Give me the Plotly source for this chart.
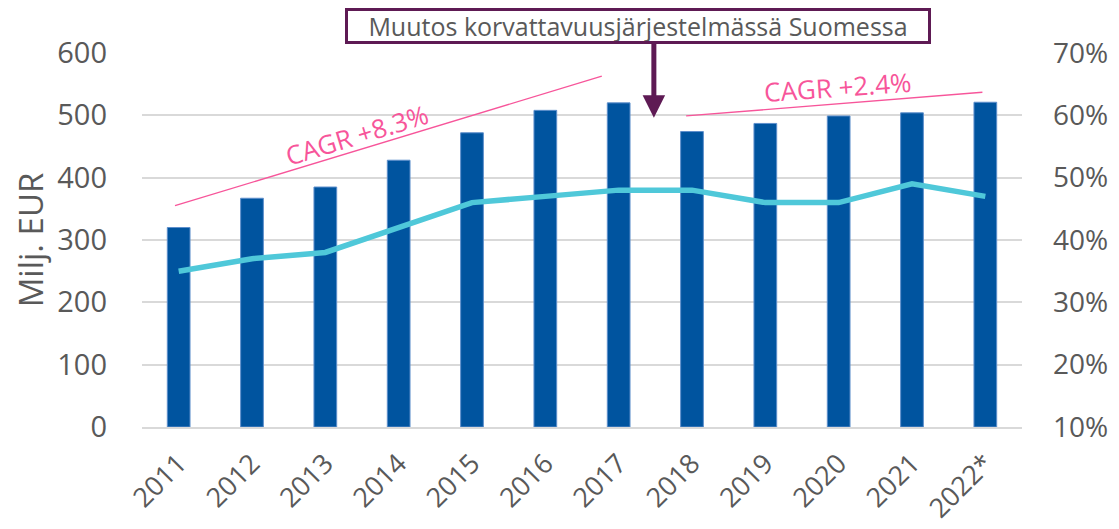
import plotly.graph_objects as go

years = ["2011", "2012", "2013", "2014", "2015", "2016", "2017", "2018", "2019", "2020", "2021", "2022*"]
revenue = [320, 367, 385, 428, 472, 508, 520, 474, 487, 499, 504, 521]
share_pct = [35, 37, 38, 42, 46, 47, 48, 48, 46, 46, 49, 47]

bar_color = "#00549F"
line_color = "#4FC8D9"
pink = "#F7559A"
purple = "#5E1A54"
grey_text = "#595959"
font_family = "Open Sans, Noto Sans, sans-serif"

fig = go.Figure()
fig.add_trace(go.Bar(
    x=years, y=revenue, marker=dict(color=bar_color, line=dict(color="#5E8FCC", width=1)),
    yaxis="y", name="Milj. EUR", showlegend=False,
))
fig.add_trace(go.Scatter(
    x=years, y=share_pct, mode="lines", line=dict(color=line_color, width=5.5),
    yaxis="y2", name="%", showlegend=False,
))

# CAGR trend lines
fig.add_shape(type="line", xref="x", yref="y", x0=-0.05, y0=355, x1=5.77, y1=563,
              line=dict(color=pink, width=1.3))
fig.add_shape(type="line", xref="x", yref="y", x0=6.92, y0=499, x1=10.96, y1=537,
              line=dict(color=pink, width=1.3))

fig.add_annotation(text="CAGR +8.3%", x=2.42, y=469, xref="x", yref="y", showarrow=False,
                   textangle=-17, font=dict(size=26, color=pink, family=font_family))
fig.add_annotation(text="CAGR +2.4%", x=8.98, y=545, xref="x", yref="y", showarrow=False,
                   textangle=-4, font=dict(size=26, color=pink, family=font_family))

# Box annotation + arrow
fig.add_annotation(x=6.48, y=496, xref="x", yref="y", ax=0, ay=-76, axref="pixel", ayref="pixel",
                   text="", showarrow=True, arrowhead=2, arrowsize=0.9, arrowwidth=5,
                   arrowcolor=purple)
fig.add_annotation(text="Muutos korvattavuusjärjestelmässä Suomessa", x=6.27, y=1.072,
                   xref="x", yref="paper", xanchor="center", yanchor="middle", showarrow=False,
                   font=dict(size=25, color=grey_text, family=font_family),
                   width=580, height=30, align="center", valign="middle",
                   bordercolor=purple, borderwidth=3, borderpad=0, bgcolor="white")

fig.update_layout(
    width=1111, height=521,
    margin=dict(l=134, r=97, t=45, b=102),
    plot_bgcolor="white", paper_bgcolor="white",
    bargap=0.69,
    font=dict(family=font_family, color=grey_text),
    xaxis=dict(type="category", tickangle=-45, tickfont=dict(size=27, color=grey_text),
               showgrid=False, showline=True, linecolor="#D9D9D9", linewidth=2, ticks="",
               ticklabelstandoff=8, automargin=False),
    yaxis=dict(range=[0, 600], dtick=100, showgrid=True, gridcolor="#D9D9D9", gridwidth=2,
               zeroline=False, tickfont=dict(size=29, color=grey_text), ticklabelstandoff=34,
               automargin=False,
               title=dict(text="Milj. EUR", font=dict(size=33, color=grey_text), standoff=8)),
    yaxis2=dict(range=[10, 70], dtick=10, overlaying="y", side="right", showgrid=False,
                zeroline=False, ticksuffix="%", tickfont=dict(size=28, color=grey_text),
                ticklabelstandoff=30, automargin=False),
)

fig.write_html("out.html")
